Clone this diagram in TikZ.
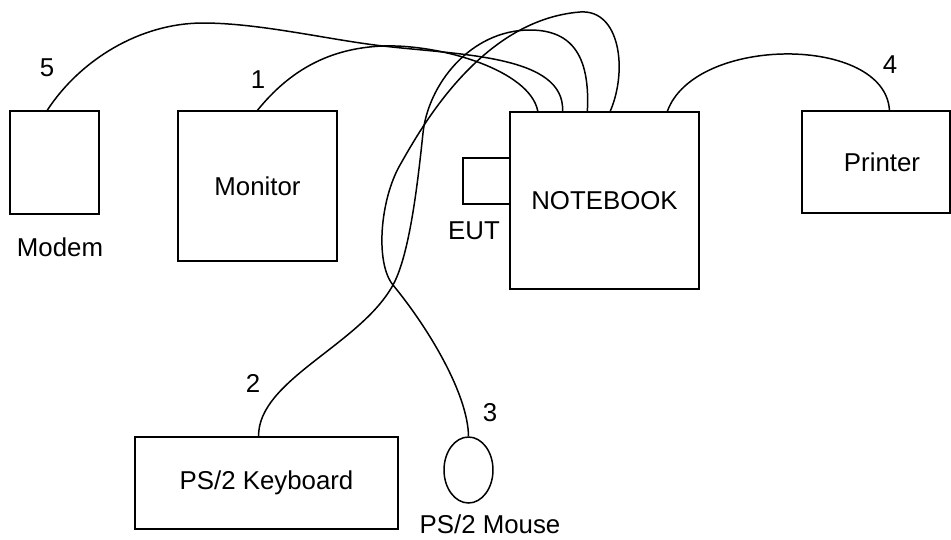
\documentclass[tikz,border=0pt]{standalone}
\usepackage{fontspec}
\setmainfont{Liberation Sans}
\usetikzlibrary{shapes.geometric,calc}

\begin{document}
\begin{tikzpicture}[x=0.02cm, y=-0.02cm,
  box/.style={draw=black, line width=0.85pt, solid, fill=white, inner sep=0pt,
    font=\fontsize{14.7}{17}\selectfont},
  cable/.style={draw=black, line width=0.85pt},
  lbl/.style={inner sep=0pt, font=\fontsize{14.7}{17}\selectfont}]
\useasboundingbox (0,0) rectangle (951,539);
\node[box, minimum width=1.78cm, minimum height=2.06cm] (modem) at (54.5,162.5) {};
\node[box, minimum width=3.18cm, minimum height=3.0cm] (monitor) at (257.5,186) {Monitor};
\node[box, minimum width=0.94cm, minimum height=0.92cm] (eut) at (486.5,181) {};
\node[box, minimum width=3.78cm, minimum height=3.54cm] (notebook) at (604.5,200.5) {NOTEBOOK};
\node[box, minimum width=2.96cm, minimum height=2.04cm] (printer) at (876,162) {\hspace{0.24cm}Printer};
\node[box, minimum width=5.26cm, minimum height=1.84cm] (keyboard) at (266.5,483) {PS/2 Keyboard};
\node[box, ellipse, minimum width=0.98cm, minimum height=1.32cm] (mouse) at (468.5,470) {};
\node[lbl] (tmodem) at (60,247) {Modem};
\node[lbl] (teut) at (474,231) {EUT};
\node[lbl] (tmouse) at (490,524) {PS/2 Mouse};
\node[lbl] (n5) at (47,68) {5};
\node[lbl] (n1) at (258,80) {1};
\node[lbl] (n4) at (890,65) {4};
\node[lbl] (n2) at (253,383) {2};
\node[lbl] (n3) at (490,413) {3};
% cables
\draw[cable] ($(modem.north west)!0.42!(modem.north east)$) .. controls (80,60) and (140,23) .. (203,23)
  .. controls (260,23) and (330,40) .. (383,46)
  .. controls (460,55) and (565,55) .. ($(notebook.north west)!0.28!(notebook.north east)$);
\draw[cable] (monitor.north) .. controls (290,70) and (330,48) .. (383,46)
  .. controls (440,44) and (530,70) .. ($(notebook.north west)!0.15!(notebook.north east)$);
\draw[cable] ($(keyboard.north west)!0.47!(keyboard.north east)$) .. controls (258,380) and (360,345) .. (393,285)
  .. controls (410,254) and (418,180) .. (423,133)
  .. controls (428,85) and (470,30) .. (530,30)
  .. controls (575,30) and (590,60) .. ($(notebook.north west)!0.41!(notebook.north east)$);
\draw[cable] (mouse.north) .. controls (468,395) and (430,330) .. (393,285)
  .. controls (375,263) and (380,200) .. (400,165)
  .. controls (420,130) and (480,20) .. (580,12)
  .. controls (620,9) and (628,70) .. ($(notebook.north west)!0.53!(notebook.north east)$);
\draw[cable] ($(notebook.north west)!0.83!(notebook.north east)$) .. controls (695,35) and (885,35)
  .. ($(printer.north west)!0.59!(printer.north east)$);
\end{tikzpicture}
\end{document}
